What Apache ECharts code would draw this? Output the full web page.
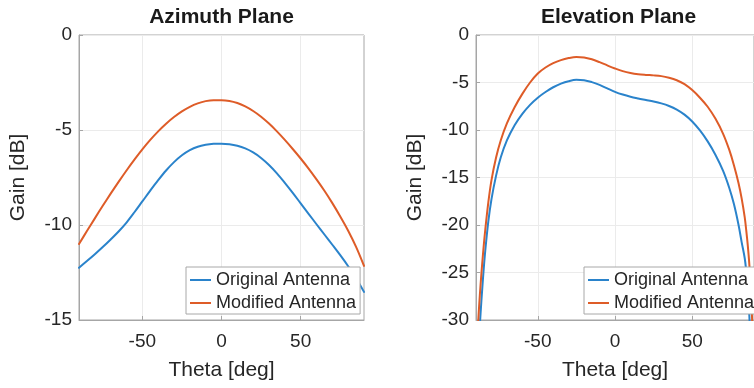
<!DOCTYPE html>
<html>
<head>
<meta charset="utf-8">
<title>Antenna gain patterns</title>
<script src="https://cdn.jsdelivr.net/npm/echarts@6/dist/echarts.min.js"></script>
<style>
  html, body { margin: 0; padding: 0; background: #fff; }
  #chart { width: 754px; height: 388px; }
</style>
</head>
<body>
<div id="chart"></div>
<script>
// Panel titles and legend entries
const panelTitles = ['Azimuth Plane', 'Elevation Plane'];
const seriesNames = ['Original Antenna', 'Modified Antenna'];

// Shared axis ticks
const thetaTicks = [-50, 0, 50];
const azGainTicks = [-15, -10, -5, 0];
const elGainTicks = [-30, -25, -20, -15, -10, -5, 0];

// Azimuth cut: gain [dB] versus theta [deg]
const azTheta = [-90, -85, -80, -75, -70, -65, -60, -55, -50, -45, -40, -35, -30, -25, -20, -15, -10, -5,
  0, 5, 10, 15, 20, 25, 30, 35, 40, 45, 50, 55, 60, 65, 70, 75, 80, 85, 90];
const azOriginal = [-12.25, -11.9, -11.54, -11.16, -10.76, -10.34, -9.87, -9.33, -8.76, -8.19, -7.64, -7.13, -6.69, -6.33, -6.06, -5.88, -5.78, -5.73,
  -5.72, -5.75, -5.83, -5.97, -6.18, -6.47, -6.84, -7.28, -7.78, -8.31, -8.86, -9.41, -9.96, -10.5, -11.04, -11.59, -12.17, -12.8, -13.52];
const azModified = [-11.0, -10.32, -9.65, -8.99, -8.35, -7.73, -7.13, -6.56, -6.02, -5.52, -5.07, -4.67, -4.32, -4.02, -3.78, -3.6, -3.48, -3.43,
  -3.43, -3.47, -3.58, -3.76, -4.0, -4.3, -4.66, -5.07, -5.52, -6.0, -6.5, -7.03, -7.6, -8.2, -8.85, -9.55, -10.3, -11.15, -12.15];

// Elevation cut: gain [dB] versus theta [deg]
const elTheta = [-90, -89, -88, -87, -86, -85, -84, -82, -80, -77, -74, -70, -65, -60, -55, -50, -45, -40, -35, -30, -25, -20, -15, -10, -5,
  0, 5, 10, 15, 20, 25, 30, 35, 40, 45, 50, 55, 60, 65, 70, 74, 77, 80, 82, 84, 85, 86, 87, 88, 89, 90];
const elOriginal = [-42, -36, -32, -29.2, -26.8, -24.6, -22.7, -19.6, -17.3, -14.8, -12.9, -11.1, -9.5, -8.3, -7.35, -6.6, -6.0, -5.5, -5.12, -4.86, -4.72, -4.76, -4.96, -5.25, -5.62,
  -5.98, -6.27, -6.5, -6.68, -6.84, -7.0, -7.2, -7.47, -7.85, -8.38, -9.1, -10.05, -11.2, -12.6, -14.3, -16.1, -17.8, -20.0, -21.8, -23.5, -24.9, -26.8, -29.6, -33.5, -38, -45];
const elModified = [-36, -31.5, -28.6, -26.2, -24.1, -22.2, -20.5, -17.6, -15.3, -12.9, -11.1, -9.3, -7.6, -6.2, -5.0, -4.05, -3.42, -2.96, -2.64, -2.43, -2.32, -2.36, -2.56, -2.86, -3.2,
  -3.52, -3.8, -4.0, -4.13, -4.2, -4.25, -4.33, -4.5, -4.76, -5.17, -5.8, -6.6, -7.55, -8.8, -10.4, -12.1, -13.7, -15.6, -17.2, -19.2, -20.6, -22.2, -24.2, -27, -31, -38];

const BLUE = '#2a83cb';
const ORANGE = '#de5c28';
const TEXT = '#262626';
const FONT = '"Liberation Sans", Arial, sans-serif';
const FRAME = '#a6a6a6';

const pairs = (xs, ys) => xs.map((x, i) => [x, ys[i]]);

function xAxisFor(gridIndex) {
  return {
    type: 'value', gridIndex, min: -90, max: 90,
    name: 'Theta [deg]', nameLocation: 'middle', nameGap: 40,
    nameTextStyle: { fontFamily: FONT, fontSize: 21, color: TEXT },
    axisLine: { show: true, onZero: false, lineStyle: { color: FRAME, width: 1 } },
    axisTick: { show: true, inside: true, length: 4, customValues: thetaTicks, lineStyle: { color: FRAME } },
    axisLabel: { customValues: thetaTicks, margin: 12, fontFamily: FONT, fontSize: 19, color: TEXT },
    splitLine: { show: true, lineStyle: { color: '#ebebeb', width: 1 } }
  };
}

function yAxisFor(gridIndex, ticks) {
  return {
    type: 'value', gridIndex, min: ticks[0], max: ticks[ticks.length - 1], interval: 5,
    name: 'Gain [dB]', nameLocation: 'middle', nameGap: 50, nameRotate: 90,
    nameTextStyle: { fontFamily: FONT, fontSize: 21, color: TEXT },
    axisLine: { show: true, onZero: false, lineStyle: { color: FRAME, width: 1 } },
    axisTick: { show: true, inside: true, length: 4, lineStyle: { color: FRAME } },
    axisLabel: { margin: 7, fontFamily: FONT, fontSize: 19, color: TEXT },
    splitLine: { show: true, lineStyle: { color: '#ebebeb', width: 1 } }
  };
}

function lineSeries(name, color, data, idx) {
  return {
    name, type: 'line', xAxisIndex: idx, yAxisIndex: idx,
    data, symbol: 'none', showSymbol: false, smooth: 0.35, clip: true,
    sampling: null, progressive: 0,
    lineStyle: { color, width: 2, cap: 'round', join: 'round' }, itemStyle: { color },
    animation: false
  };
}

function legendAt(left) {
  return {
    orient: 'vertical', left, top: 267,
    data: seriesNames,
    icon: 'rect',
    backgroundColor: '#ffffff', borderColor: '#a8a8a8', borderWidth: 1, borderRadius: 0,
    padding: [4, 4, 2, 4], itemWidth: 21, itemHeight: 2, itemGap: 5,
    textStyle: { fontFamily: FONT, fontSize: 18, color: TEXT, lineHeight: 18 },
    selectedMode: false
  };
}

const chart = echarts.init(document.getElementById('chart'), null, { renderer: 'canvas' });
chart.setOption({
  backgroundColor: '#ffffff',
  animation: false,
  title: [
    { text: panelTitles[0], left: 221.5, top: 7, textAlign: 'center', padding: 0,
      textStyle: { fontFamily: FONT, fontSize: 21, fontWeight: 'bold', color: '#1a1a1a' } },
    { text: panelTitles[1], left: 618.5, top: 7, textAlign: 'center', padding: 0,
      textStyle: { fontFamily: FONT, fontSize: 21, fontWeight: 'bold', color: '#1a1a1a' } }
  ],
  grid: [
    { left: 79, top: 35, width: 285, height: 285, show: true, borderColor: FRAME, borderWidth: 1, backgroundColor: '#fff' },
    { left: 476, top: 35, width: 285, height: 285, show: true, borderColor: FRAME, borderWidth: 1, backgroundColor: '#fff' }
  ],
  xAxis: [xAxisFor(0), xAxisFor(1)],
  yAxis: [yAxisFor(0, azGainTicks), yAxisFor(1, elGainTicks)],
  legend: [legendAt(186), legendAt(584)],
  series: [
    lineSeries(seriesNames[0], BLUE, pairs(azTheta, azOriginal), 0),
    lineSeries(seriesNames[1], ORANGE, pairs(azTheta, azModified), 0),
    lineSeries(seriesNames[0], BLUE, pairs(elTheta, elOriginal), 1),
    lineSeries(seriesNames[1], ORANGE, pairs(elTheta, elModified), 1)
  ]
});
</script>
</body>
</html>
